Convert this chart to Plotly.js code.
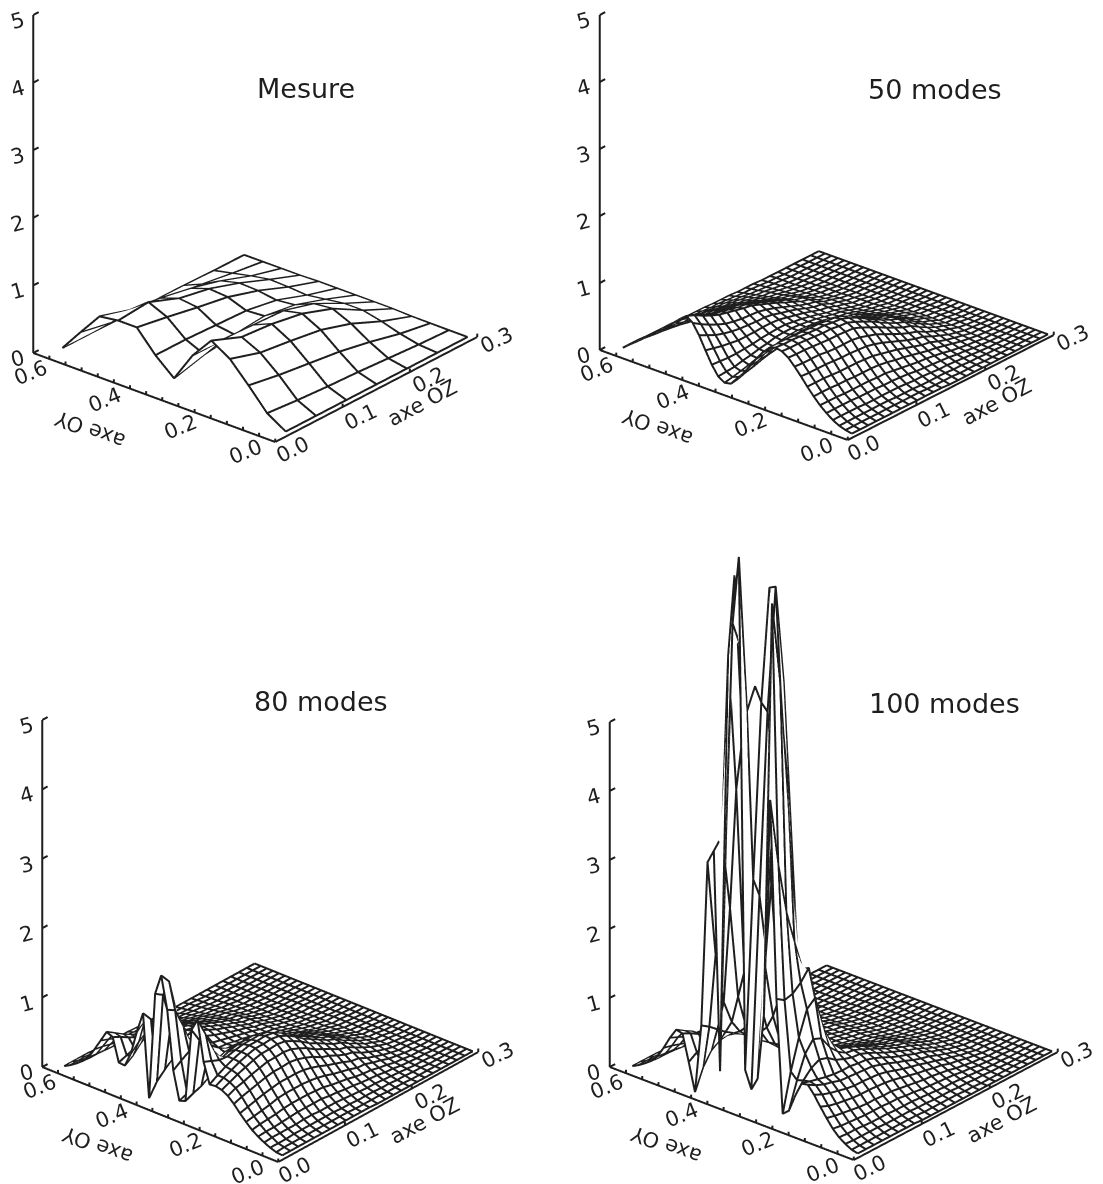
<!DOCTYPE html>
<html><head><meta charset="utf-8">
<script src="https://cdn.plot.ly/plotly-3.0.1.min.js"></script>
<style>html,body{margin:0;padding:0;background:#fff}#g{width:1103px;height:1184px}</style></head>
<body><div id="g"></div>
<script>
const titles=["Mesure","50 modes","80 modes","100 modes"];
const mesure=[
[0,0,0,0,0,0,0],[17,13,10,8,5,2,0],[48,40,34,28,19,8,0],[77,63,57,50,36,16,0],[94,76,72,64,48,22,1],
[62,62,60,58,45,22,1],[18,30,36,40,33,18,1],[42,42,40,38,30,14,1],[73,65,56,48,34,16,1],[73,77,59,50,35,17,0],
[69,55,49,40,28,12,0],[36,27,23,19,13,6,0],[2,2,1,1,1,0,0]];
const modes50=[
[1,1,1,1,1,1,1,1,1,1,1,1],[3,3,3,3,3,3,3,3,3,3,2,2,2,2,1,1,1],[6,6,6,6,6,6,6,5,5,5,4,4,4,4,3,3,2,2,1,1],
[11,11,11,11,10,10,10,10,10,9,8,8,7,6,6,5,4,3,2,1,1],[18,18,18,18,17,17,17,16,16,15,14,12,11,10,9,8,6,5,3,2,1,1],
[26,26,26,25,25,25,25,24,24,22,20,18,16,15,13,11,8,6,4,3,1,1],[36,36,36,35,35,34,34,34,33,31,28,26,23,20,17,15,12,9,6,4,2,1],
[47,47,47,46,45,45,45,44,43,40,37,34,30,26,22,20,15,11,8,5,2,2,1],[59,58,58,58,57,56,56,55,54,51,47,42,37,32,28,25,19,14,9,6,3,2,1],
[70,69,69,69,67,66,66,66,64,60,56,50,44,38,33,29,22,17,12,8,4,2,1],[80,79,79,78,77,76,76,75,74,69,63,57,50,44,38,34,26,19,13,9,4,3,1],
[86,85,85,84,83,82,82,80,79,74,68,62,54,47,41,36,28,21,14,9,4,3,1],[88,87,87,86,85,84,84,82,81,76,70,62,55,48,42,37,28,21,14,10,4,3,1],
[84,84,84,83,83,82,82,80,79,75,69,61,54,47,41,36,28,21,14,10,4,3,1],[74,75,75,76,76,76,76,75,74,70,65,59,52,45,39,35,27,20,13,9,4,3,1],
[61,63,64,65,66,67,67,67,67,64,60,54,48,42,36,32,25,18,13,9,4,3,1],[47,49,51,53,55,56,57,58,58,56,52,48,43,38,33,29,23,17,12,8,3,2,1],
[33,36,39,42,44,46,47,48,49,47,45,42,38,34,29,26,20,15,10,7,3,2,1],[20,24,27,31,34,36,38,40,41,40,38,36,33,29,25,23,18,13,9,6,3,2,1],
[10,14,17,21,25,28,30,33,34,34,33,31,29,26,22,20,16,12,8,5,2,2,1],[8,10,13,16,20,23,25,28,30,30,29,28,26,23,20,18,14,10,7,5,2,1],
[14,15,16,19,21,24,26,29,30,30,29,27,25,22,19,17,13,9,6,4,2,1],[28,27,26,26,27,28,30,31,32,32,30,28,25,22,18,16,12,8,5,4,2,1],
[46,43,40,38,36,36,36,37,37,36,33,30,27,23,19,17,12,9,5,4,1,1],[65,59,53,49,46,44,43,42,42,40,36,33,29,24,20,18,12,9,5,3,1,1],
[80,72,65,59,54,51,49,48,47,44,40,35,30,25,21,18,12,9,5,3,1,1],[87,82,75,69,64,61,58,55,53,48,43,38,32,27,21,18,11,7,4,2,1,1],
[79,77,72,66,61,58,55,52,50,46,41,36,31,26,20,17,11,6,3,2],[70,69,65,60,56,53,50,48,46,42,38,33,28,23,18,15,9,6,3,2],
[60,59,56,53,49,47,44,42,40,37,33,29,25,20,16,13,8,5,3,2],[51,50,48,45,42,40,38,36,34,32,28,25,21,17,13,11,7,4,2,1],
[43,42,40,38,35,33,32,30,29,27,24,21,18,15,11,9,6,4,2,1],[36,34,33,31,29,27,26,25,24,22,20,17,15,12,9,8,5,3,1,1],
[29,27,26,24,23,21,20,20,19,17,15,14,12,10,7,6,4,2,1],[21,20,19,18,16,15,14,14,13,12,11,10,8,7,5,4,3,2,1],
[13,12,12,11,10,9,9,9,8,7,6,6,5,4,3,3,2,1,1],[5,5,5,4,4,4,4,3,3,3,3,2,2,2,1,1,1]];
const modes80=[
[1,1,1,1,1,1,1,1,1,1,1,1],[2,3,3,3,3,3,3,3,3,3,2,2,2,2,1,1,1],[5,5,5,6,6,6,6,6,6,5,5,4,4,4,3,3,2,2,1,1],
[9,10,10,10,10,11,11,10,10,10,9,8,7,6,6,5,4,3,2,1,1],[14,15,15,16,17,18,18,18,18,16,15,13,12,10,9,8,6,5,3,2,1,1],
[20,22,23,24,26,27,27,27,26,25,22,20,18,15,13,12,9,7,4,3,1,1],[28,30,32,34,37,38,38,38,37,35,32,28,25,22,18,17,13,10,6,4,2,1],
[37,40,43,46,48,50,50,50,49,46,42,37,33,29,24,22,16,12,8,5,2,2,1],[47,51,54,57,60,62,62,63,61,57,52,45,41,35,30,27,20,15,10,6,3,2,1],
[55,60,63,67,70,73,73,74,72,67,61,53,47,41,34,31,24,18,12,8,4,2,1],[60,65,70,74,78,81,81,82,80,74,67,58,52,45,38,34,26,20,13,9,4,3,1],
[62,68,73,78,82,85,85,86,84,78,70,61,54,47,40,35,27,21,14,9,4,3,1],[61,68,74,79,83,86,86,87,85,78,70,61,54,47,40,35,27,21,14,9,4,3,1],
[90,85,80,79,82,84,84,84,82,75,68,60,52,45,38,34,26,20,13,9,4,3,1],[147,120,90,72,76,79,79,80,77,71,64,56,49,43,36,32,24,18,12,8,3,2,1],
[129,108,75,55,65,70,72,72,69,64,58,51,45,39,33,29,22,16,11,7,3,2,1],[23,28,32,40,58,62,63,63,61,57,52,46,40,35,29,26,20,15,10,7,3,2,1],
[20,24,35,52,75,64,57,54,52,49,45,40,35,30,26,23,18,13,9,6,3,2,1],[60,68,75,78,70,57,48,45,44,42,38,34,30,27,22,20,15,11,7,5,2,2,1],
[144,137,108,75,45,40,38,38,37,36,33,30,26,23,20,18,14,10,7,5,2,2,1],[190,175,120,60,20,28,31,32,33,32,30,27,24,21,18,16,12,9,6,4,2,1],
[160,152,105,50,20,30,34,33,32,31,28,26,23,20,17,15,11,8,5,4,2,1],[6,24,35,45,60,56,48,42,36,33,30,27,24,21,17,15,11,8,5,3,1,1],
[125,110,78,48,35,46,50,50,42,37,33,29,25,22,17,15,11,7,4,3,1,1],[95,106,90,60,30,41,48,52,47,41,35,31,26,22,17,15,10,7,4,3,1,1],
[60,71,80,76,50,46,47,50,47,42,36,31,26,22,17,15,10,6,3,2,1,1],[39,47,59,67,65,57,52,50,46,41,36,31,26,22,16,14,9,6,3,2,1,1],
[40,44,48,53,55,53,50,48,44,39,34,29,24,20,15,13,8,5,3,2],[73,67,60,54,50,48,45,43,40,36,31,26,22,18,13,11,7,4,2,1],
[77,69,61,54,48,44,41,38,36,32,28,24,20,16,12,10,6,4,2,1],[61,57,52,47,42,38,35,33,31,28,24,20,17,14,10,8,5,3,1,1],
[45,43,40,37,33,31,29,27,25,23,20,17,14,11,8,7,4,3,1,1],[30,29,28,27,25,24,22,20,19,18,15,13,11,9,6,5,3,2,1],
[21,20,20,19,18,16,15,15,14,13,11,10,8,7,5,4,2,1,1],[14,14,14,13,12,11,10,10,9,8,7,6,5,4,3,3,2,1],
[8,8,8,7,7,6,6,6,5,5,4,4,3,2,2,2,1],[3,3,3,3,2,2,2,2,2,1,1,1,1,1]];
const modes100=[
[1,1,1,1,1,1,1,1],[3,3,3,3,3,3,3,3,3,2,2,2,2,2,1,1],[8,7,7,7,7,6,6,6,6,5,5,4,4,4,3,3,2,2,1,1],
[14,13,13,12,11,11,11,10,10,10,9,8,7,6,6,5,4,3,2,1,1],[23,21,20,19,18,18,18,17,17,15,14,12,11,10,9,8,6,5,3,2,1,1],
[35,32,30,28,26,25,25,24,24,22,20,18,16,15,13,11,8,6,4,3,1,1],[48,43,40,38,36,35,35,34,33,31,28,25,22,20,17,15,11,9,6,4,2,1],
[62,56,52,49,46,44,44,43,42,39,35,31,28,25,21,18,14,11,7,5,2,2,1],[73,66,61,58,54,53,52,51,50,46,42,37,33,28,24,21,16,12,8,5,2,2,1],
[71,68,65,62,60,59,59,57,56,52,47,41,36,32,27,24,18,14,9,6,3,2,1],[50,66,78,84,80,71,66,62,61,56,50,44,39,34,29,25,19,14,9,6,3,2,1],
[25,63,95,110,105,86,73,65,63,58,52,46,40,35,30,26,20,15,10,7,3,2,1],[17,72,115,150,160,110,82,68,63,58,52,45,39,34,29,26,20,15,10,7,3,2,1],
[180,172,175,185,200,125,84,66,60,55,49,43,38,33,28,25,19,14,9,6,3,2,1],[465,365,290,240,195,115,75,58,55,50,45,40,35,30,26,23,17,13,9,6,3,2,1],
[150,740,620,430,200,110,66,51,49,45,41,36,32,28,24,21,16,12,8,5,2,2,1],[54,240,475,560,420,180,74,47,45,41,37,33,29,25,21,19,14,10,7,5,2,2,1],
[35,310,570,745,600,250,88,43,40,37,33,30,26,23,19,17,13,9,6,4,2,1],[60,330,580,740,500,215,80,38,36,34,31,27,24,21,18,16,12,9,6,4,2,1],
[800,570,600,550,300,130,58,35,33,32,29,26,24,21,18,16,12,8,5,4,2,1],[700,660,535,330,180,100,52,34,33,32,29,26,24,21,18,16,11,8,5,4,2,1],
[405,760,520,240,130,80,50,35,34,33,30,26,24,21,17,15,11,8,5,3,2,1],[44,640,440,170,100,70,49,37,36,34,31,27,25,21,17,15,10,7,4,3,1,1],
[360,375,265,130,80,62,48,41,39,36,32,27,25,21,17,15,10,7,4,3,1,1],[340,200,125,90,70,58,50,44,41,37,33,28,25,21,16,14,9,6,4,3,1,1],
[100,92,82,72,65,57,51,46,42,38,33,28,24,20,15,13,8,6,3,2,1,1],[0,30,48,56,58,54,50,46,42,37,32,27,23,19,14,12,8,5,3,2,1,1],
[40,48,51,52,52,49,47,44,40,35,30,25,21,17,13,11,7,4,2,1],[78,72,65,56,52,47,44,41,37,32,28,23,19,15,12,10,6,4,2,1],
[80,72,65,55,50,45,41,37,34,30,26,21,17,14,11,9,5,3,2,1],[65,60,54,47,43,39,36,33,30,26,22,18,15,12,9,7,4,3,1,1],
[47,44,40,36,33,30,28,26,24,22,19,16,13,10,7,6,4,2,1],[31,30,29,26,25,23,22,20,19,17,15,12,10,8,6,5,3,1,1],
[21,20,20,19,18,16,15,15,14,13,11,10,8,7,5,4,2,1,1],[14,14,14,13,12,11,10,10,9,8,7,6,5,4,3,3,2,1],
[8,8,8,7,7,6,6,6,5,5,4,4,3,2,2,2,1],[3,3,3,3,2,2,2,2,2,1,1,1,1,1]];
const oyTicks=[0,0.2,0.4,0.6], ozTicks=[0,0.1,0.2,0.3], hTicks=[0,1,2,3,4,5];
const grids=[mesure,modes50,modes80,modes100];
const ozStart=[0.024,0.012,0.012,0.012], oyStart=[0.014,0.010,0.010,0.010];
const ozStep=[0.045,0.0119,0.0119,0.0119], oyStep=[0.04617,0.0154,0.0154,0.0154], ozCount=[7,25,25,25];
const ink='#1e1e1e';
const W=1103,H=1184,DH=644,PX=322,ZMIN=-1,ZMAX=8,EPS=0.006;
const geom=[{c:[275,442],Y:[242,89],Z:[202,105],V:338},{c:[847,440],Y:[248,90],Z:[206,105],V:335},
            {c:[278,1162],Y:[236,95],Z:[200,110],V:347},{c:[853,1160],Y:[244,93],Z:[204,108],V:345}];
const domTop=[0,0,H-DH,H-DH];
const traces=[],scenes={};
grids.forEach((raw,p)=>{
  const s=p?'scene'+(p+1):'scene';
  const g=geom[p], ry=g.Y[1]/g.Y[0], rz=g.Z[1]/g.Z[0];
  const sp=Math.sqrt(ry*rz), cp=Math.sqrt(1-sp*sp), th=Math.atan(ry/sp), sa=Math.sin(th), ca=Math.cos(th);
  const Ly=g.Y[0]/ca, Lx=g.Z[0]/sa, Lz=g.V/cp*(ZMAX-ZMIN)/5;
  const d=[-cp*ca,-cp*sa,sp], e=2;
  const oz=[],oy=[];
  for(let j=0;j<ozCount[p];j++)oz.push(ozStart[p]+ozStep[p]*j);
  for(let i=0;i<raw.length;i++)oy.push(oyStart[p]+oyStep[p]*i);
  const z=raw.map(r=>{const c=r.map(v=>v/100);while(c.length<oz.length)c.push(0);return c;});
  // white hiding sheet, pushed a hair away from the viewer so the wires never z-fight with it
  const sx=-EPS*d[0]*PX/Lx*0.3, sy=-EPS*d[1]*PX/Ly*0.6, sz=-EPS*d[2]*PX/Lz*(ZMAX-ZMIN);
  traces.push({type:'surface',scene:s,x:oz.map(v=>v+sx),y:oy.map(v=>v+sy),z:z.map(r=>r.map(v=>v+sz)),showscale:false,colorscale:[[0,'#fff'],[1,'#fff']],cmin:0,cmax:1,
    lighting:{ambient:1,diffuse:0,specular:0,fresnel:0,roughness:1},hoverinfo:'skip',contours:{x:{highlight:false},y:{highlight:false},z:{highlight:false}}});
  const lx=[],ly=[],lz=[];
  z.forEach((r,i)=>{r.forEach((v,j)=>{lx.push(oz[j]);ly.push(oy[i]);lz.push(v);});lx.push(null);ly.push(null);lz.push(null);});
  oz.forEach((o,j)=>{z.forEach((r,i)=>{lx.push(o);ly.push(oy[i]);lz.push(r[j]);});lx.push(null);ly.push(null);lz.push(null);});
  traces.push({type:'scatter3d',scene:s,mode:'lines',x:lx,y:ly,z:lz,line:{color:ink,width:4},hoverinfo:'skip',showlegend:false});
  const ax=[0,0,null,0,0,null,0,0.3],ay=[0,0.6,null,0.6,0.6,null,0,0],az=[0,0,null,0,5,null,0,0];
  hTicks.forEach(t=>{ax.push(null,0,0.008);ay.push(null,0.6,0.6);az.push(null,t,t);});
  for(let k=0;k<=15;k++){const t=k*0.04;ax.push(null,0,0);ay.push(null,t,t);az.push(null,0,0.05);}
  ozTicks.forEach(t=>{ax.push(null,t,t);ay.push(null,0,0);az.push(null,0,0.05);});
  traces.push({type:'scatter3d',scene:s,mode:'lines',x:ax,y:ay,z:az,line:{color:ink,width:4},hoverinfo:'skip',showlegend:false});
  const f={family:'DejaVu Sans, sans-serif',size:21,color:ink};
  const ann=[];
  const A=(x,y,zz,text,ang,xs,ys)=>ann.push({x:x,y:y,z:zz,text:text,textangle:ang,xshift:xs,yshift:ys,showarrow:false,font:f});
  hTicks.forEach(t=>A(0,0.6,t,String(t),-15,-16,-6));
  const oyS=[[-30,-10],[-14,-15],[-9,-17],[-3,-20]], ozS=[[17,-8],[18,-10],[19,-8],[20,-3]];
  oyTicks.forEach((t,k)=>A(0,t,0,t.toFixed(1),-22,oyS[k][0],oyS[k][1]));
  ozTicks.forEach((t,k)=>A(t,0,0,t.toFixed(1),-26,ozS[k][0],ozS[k][1]));
  A(0,0.42,0,'axe OY',200,-16,-50);
  A(0.17,0,0,'axe OZ',-28,33,-21);
  const dx=p%2?827.25:275.75, dy=domTop[p]+DH/2;
  const midZ=(ZMAX+ZMIN)/2;
  const cxs=g.c[0]-g.Y[0]/2+g.Z[0]/2, cys=g.c[1]-g.Y[1]/2-g.Z[1]/2-g.V*midZ/5;
  const kr=-(cxs-dx)/PX, kz=(cys-dy)/PX/cp;
  const cen={x:kr*sa,y:-kr*ca,z:kz};
  scenes[s]={domain:{x:p%2?[.5,1]:[0,.5],y:[1-(domTop[p]+DH)/H,1-domTop[p]/H]},bgcolor:'rgba(0,0,0,0)',
    aspectmode:'manual',aspectratio:{x:Lx/PX,y:Ly/PX,z:Lz/PX},
    xaxis:{visible:false,range:[0,.3],showspikes:false},yaxis:{visible:false,range:[0,.6],showspikes:false},zaxis:{visible:false,range:[ZMIN,ZMAX],showspikes:false},
    camera:{projection:{type:'orthographic'},up:{x:0,y:0,z:1},center:cen,eye:{x:cen.x+d[0]*e,y:cen.y+d[1]*e,z:cen.z+d[2]*e}},
    annotations:ann,dragmode:false};
});
const tf={family:'DejaVu Sans, sans-serif',size:27,color:ink};
const tpos=[[306,88],[935,90],[321,701],[944,703]];
const layout={width:W,height:H,margin:{l:0,r:0,t:0,b:0},paper_bgcolor:'#fff',showlegend:false,
  annotations:titles.map((t,i)=>({text:t,xref:'paper',yref:'paper',x:tpos[i][0]/W,y:1-tpos[i][1]/H,xanchor:'center',yanchor:'middle',showarrow:false,font:tf})),...scenes};
Plotly.newPlot('g',traces,layout,{displayModeBar:false});
</script></body></html>
